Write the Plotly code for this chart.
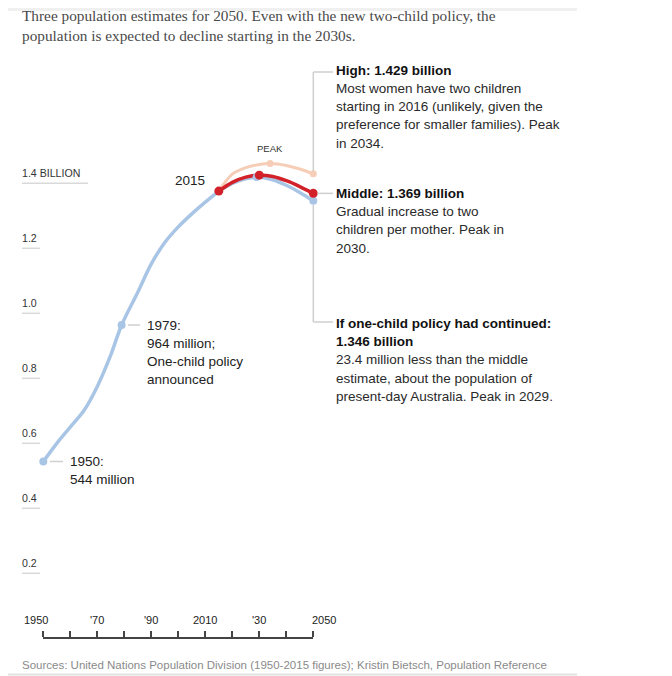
import plotly.graph_objects as go

# ---------------- data ----------------
hist_years = [1950, 1955, 1960, 1965, 1970, 1975, 1979, 1985, 1990, 1995, 2000, 2005, 2010, 2015]
hist_vals = [0.544, 0.600, 0.650, 0.700, 0.775, 0.872, 0.964, 1.065, 1.152, 1.218, 1.266, 1.306, 1.342, 1.376]

high_years = [2015, 2020, 2025, 2030, 2034, 2040, 2045, 2050]
high_vals = [1.376, 1.428, 1.448, 1.458, 1.461, 1.455, 1.444, 1.429]

mid_years = [2015, 2020, 2025, 2030, 2035, 2040, 2045, 2050]
mid_vals = [1.376, 1.403, 1.419, 1.425, 1.421, 1.408, 1.390, 1.369]

low_years = [2015, 2020, 2025, 2029, 2035, 2040, 2045, 2050]
low_vals = [1.376, 1.400, 1.414, 1.419, 1.411, 1.394, 1.372, 1.346]

y_tick_vals = [1.4, 1.2, 1.0, 0.8, 0.6, 0.4, 0.2]
y_tick_text = ["1.4 BILLION", "1.2", "1.0", "0.8", "0.6", "0.4", "0.2"]

x_tick_vals = [1950, 1960, 1970, 1980, 1990, 2000, 2010, 2020, 2030, 2040, 2050]
x_label_vals = [1950, 1970, 1990, 2010, 2030, 2050]
x_label_text = ["1950", "'70", "'90", "2010", "'30", "2050"]

title_lines = [
    "Three population estimates for 2050. Even with the new two-child policy, the",
    "population is expected to decline starting in the 2030s.",
]
source_text = "Sources: United Nations Population Division (1950-2015 figures); Kristin Bietsch, Population Reference"

high_lines = ["<b>High: 1.429 billion</b>", "Most women have two children",
              "starting in 2016 (unlikely, given the", "preference for smaller families). Peak",
              "in 2034."]
mid_lines = ["<b>Middle: 1.369 billion</b>", "Gradual increase to two",
             "children per mother. Peak in", "2030."]
low_lines = ["<b>If one-child policy had continued:</b>", "<b>1.346 billion</b>",
             "23.4 million less than the middle", "estimate, about the population of",
             "present-day Australia. Peak in 2029."]
note_1979 = ["1979:", "964 million;", "One-child policy", "announced"]
note_1950 = ["1950:", "544 million"]

# ---------------- layout helpers ----------------
OFF = 8                      # page body margin in the browser
W, H = 672 - OFF, 676 - OFF  # figure size so that it fits the window
X0_PX, X1_PX = 43.3, 313.3          # window pixel of 1950 and 2050
ZERO_PX, PX_PER_UNIT = 638.3, 325.0  # window pixel of value 0, pixels per billion
PAD = 2                      # annotation inner padding


def px(x):
    return (x - OFF) / W


def py(y):
    return 1 - (y - OFF) / H


def vpx(v):
    return ZERO_PX - v * PX_PER_UNIT


BLUE = "#a9c5e6"
RED = "#d3212a"
ORANGE = "#f6cdb7"
GRID = "#cfcfcf"
FONT = "Liberation Sans, Arial, sans-serif"

fig = go.Figure()

line_kw = dict(mode="lines", hoverinfo="skip", cliponaxis=False, showlegend=False)
fig.add_trace(go.Scatter(x=low_years, y=low_vals, line=dict(color=BLUE, width=3.5, shape="spline", smoothing=0.9), **line_kw))
fig.add_trace(go.Scatter(x=high_years, y=high_vals, line=dict(color=ORANGE, width=3, shape="spline", smoothing=0.9), **line_kw))
fig.add_trace(go.Scatter(x=hist_years, y=hist_vals, line=dict(color=BLUE, width=3.5, shape="spline", smoothing=0.8), **line_kw))
fig.add_trace(go.Scatter(x=mid_years, y=mid_vals, line=dict(color=RED, width=3.5, shape="spline", smoothing=0.9), **line_kw))

mk_kw = dict(mode="markers", hoverinfo="skip", cliponaxis=False, showlegend=False)
i1979 = hist_years.index(1979)
ilp = low_vals.index(max(low_vals))
fig.add_trace(go.Scatter(x=[hist_years[0], hist_years[i1979], low_years[ilp], low_years[-1]],
                         y=[hist_vals[0], hist_vals[i1979], low_vals[ilp], low_vals[-1]],
                         marker=dict(color=BLUE, size=8), **mk_kw))
ihp = high_vals.index(max(high_vals))
fig.add_trace(go.Scatter(x=[high_years[ihp], high_years[-1]], y=[high_vals[ihp], high_vals[-1]],
                         marker=dict(color=ORANGE, size=7), **mk_kw))
imp = mid_vals.index(max(mid_vals))
fig.add_trace(go.Scatter(x=[mid_years[0], mid_years[imp], mid_years[-1]],
                         y=[mid_vals[0], mid_vals[imp], mid_vals[-1]],
                         marker=dict(color=RED, size=9), **mk_kw))

annotations = []
shapes = []


def text(x, y, s, size=13.5, color="#222", anchor="left", family=FONT, **kw):
    if anchor == "left":
        x -= PAD
    elif anchor == "right":
        x += PAD
    annotations.append(dict(x=px(x), y=py(y), xref="paper", yref="paper", text=s, showarrow=False,
                            xanchor=anchor, yanchor="middle", font=dict(size=size, color=color, family=family), **kw))


def hline(x0, x1, y, color=GRID, width=1.5):
    shapes.append(dict(type="line", xref="paper", yref="paper", x0=px(x0), x1=px(x1), y0=py(y), y1=py(y),
                       line=dict(color=color, width=width)))


def vline(x, y0, y1, color=GRID, width=1.5):
    shapes.append(dict(type="line", xref="paper", yref="paper", x0=px(x), x1=px(x), y0=py(y0), y1=py(y1),
                       line=dict(color=color, width=width)))


# title and source
for i, s in enumerate(title_lines):
    text(22, 16 + i * 19.5, s, size=15.3, color="#4a4a4a", family="Liberation Serif, Times New Roman, serif")
text(22, 665, source_text, size=11.5, color="#8a8a8a")
hline(OFF, 577, 9.5, color="#f0f0f0", width=3)
hline(OFF, 577, 674.5, color="#e2e2e2", width=2)

# y labels with underlines
for v, s in zip(y_tick_vals, y_tick_text):
    yy = vpx(v)
    text(22, yy - 10.5, s, size=10.6, color="#333")
    hline(22, 22 + 6 * len(s), yy, color="#d9d9d9", width=1.5)

# x labels
for v, s in zip(x_label_vals, x_label_text):
    xx = X0_PX + (v - 1950) * (X1_PX - X0_PX) / 100
    if v == x_label_vals[0]:
        text(xx + 4.5, 620, s, size=11, color="#222", anchor="right")
    elif v == x_label_vals[-1]:
        text(xx - 1.5, 620, s, size=11, color="#222", anchor="left")
    else:
        text(xx, 620, s, size=11, color="#222", anchor="center")

# right-hand blocks
LS = 18.3
for i, s in enumerate(high_lines):
    text(335.5, 70 + i * LS, s, color="#111" if i == 0 else "#2a2a2a")
for i, s in enumerate(mid_lines):
    text(335.5, 193.3 + i * LS, s, color="#111" if i == 0 else "#2a2a2a")
for i, s in enumerate(low_lines):
    text(335.5, 323.3 + i * LS, s, color="#111" if i < 2 else "#2a2a2a")

vline(X1_PX, vpx(high_vals[-1]) - 3, 72)
hline(X1_PX, 333, 72)
hline(X1_PX + 4, 333, vpx(mid_vals[-1]))
vline(X1_PX, vpx(low_vals[-1]) + 4, 322)
hline(X1_PX, 333, 322)

# left notes
for i, s in enumerate(note_1979):
    text(146.5, 325 + i * LS, s)
for i, s in enumerate(note_1950):
    text(69.5, 461 + i * LS, s)
hline(128, 140, vpx(hist_vals[i1979]))
hline(50, 63, vpx(hist_vals[0]))

# 2015 and PEAK
annotations.append(dict(x=mid_years[0], y=mid_vals[0], xref="x", yref="y", text="2015", showarrow=False,
                        xanchor="right", yanchor="middle", xshift=-12, yshift=11,
                        font=dict(size=13.5, color="#222", family=FONT)))
annotations.append(dict(x=high_years[ihp], y=high_vals[ihp], xref="x", yref="y", text="PEAK", showarrow=False,
                        xanchor="center", yanchor="middle", yshift=15,
                        font=dict(size=9.5, color="#333", family=FONT)))

fig.update_layout(
    width=W, height=H, autosize=False,
    margin=dict(l=0, r=0, t=0, b=0),
    paper_bgcolor="white", plot_bgcolor="white",
    showlegend=False,
    xaxis=dict(domain=[px(X0_PX), px(X1_PX)], range=[1950, 2050], side="top",
               anchor="free", position=py(637.5),
               showline=True, linecolor="#444", linewidth=1.5,
               ticks="outside", tickvals=x_tick_vals, ticklen=6, tickwidth=1.5, tickcolor="#444",
               showticklabels=False, showgrid=False, zeroline=False, fixedrange=True),
    yaxis=dict(domain=[0, 1], range=[(ZERO_PX - 676) / PX_PER_UNIT, (ZERO_PX - OFF) / PX_PER_UNIT],
               visible=False, fixedrange=True),
    annotations=annotations,
    shapes=shapes,
)

fig.write_html("out.html")
